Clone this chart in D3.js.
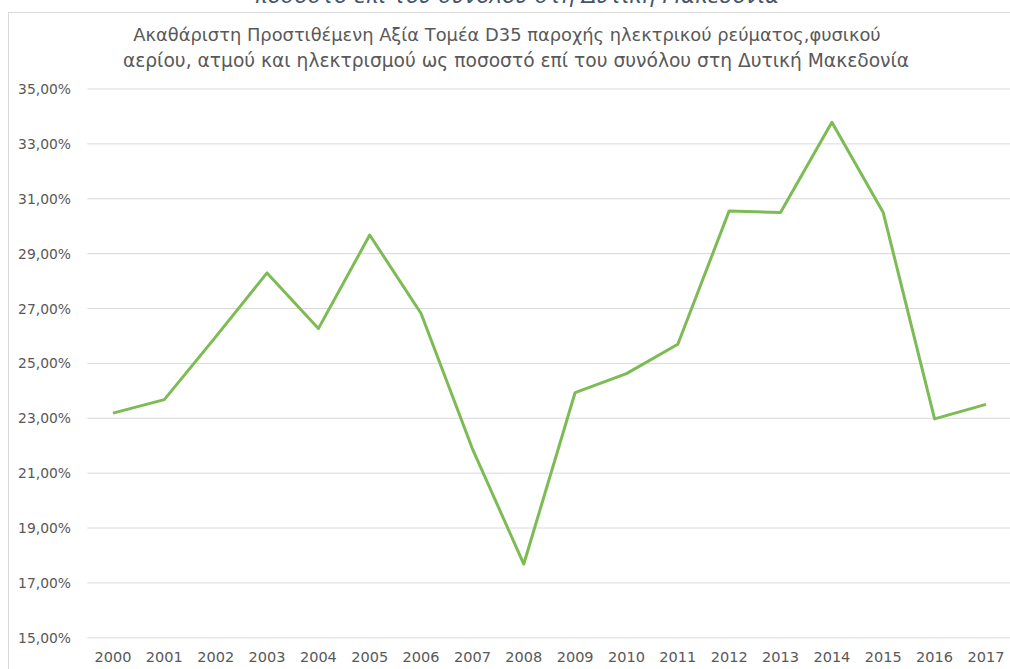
<!DOCTYPE html>
<html>
<head>
<meta charset="utf-8">
<script src="https://cdn.jsdelivr.net/npm/d3@7"></script>
<style>
	html, body { margin: 0; padding: 0; background: #fff; }
	svg { display: block; }
</style>
</head>
<body>
<div id="chart"></div>
<script>
const years = ["2000","2001","2002","2003","2004","2005","2006","2007","2008","2009","2010","2011","2012","2013","2014","2015","2016","2017"];
const shares = [23.17, 23.66, 25.95, 28.28, 26.25, 29.66, 26.80, 21.87, 17.67, 23.92, 24.61, 25.68, 30.54, 30.48, 33.77, 30.48, 22.96, 23.49];
const yTicks = [15, 17, 19, 21, 23, 25, 27, 29, 31, 33, 35];
const titleLines = [
	"Ακαθάριστη Προστιθέμενη Αξία Τομέα D35 παροχής ηλεκτρικού ρεύματος,φυσικού",
	"αερίου, ατμού και ηλεκτρισμού ως ποσοστό επί του συνόλου στη Δυτική Μακεδονία"
];
const captionTail = "ποσοστό επί του συνόλου στη Δυτική Μακεδονία";

(function() {
	const width = 1010, height = 669;
	const font = "'DejaVu Sans', sans-serif";
	const textColor = "#595959";

	const svg = d3.select("#chart").append("svg")
		.attr("width", width).attr("height", height);

	// shrink or grow a text node until it spans the wanted width
	function fitWidth(sel, target) {
		const node = sel.node();
		const fs = parseFloat(sel.attr("font-size"));
		const w = node.getComputedTextLength();
		sel.attr("font-size", fs * target / w);
	}

	// cut-off caption from the page above
	const cap = svg.append("text")
		.attr("x", 517).attr("y", 3)
		.attr("text-anchor", "middle")
		.attr("font-family", font).attr("font-style", "italic")
		.attr("font-size", 20).attr("fill", "#44546a")
		.text(captionTail);
	fitWidth(cap, 525);

	// chart frame
	svg.append("rect")
		.attr("x", 8.5).attr("y", 12.5)
		.attr("width", width + 20).attr("height", height + 20)
		.attr("fill", "#fff").attr("stroke", "#d9d9d9").attr("stroke-width", 1);

	const title = svg.append("g");
	title.append("text").attr("x", 507).attr("y", 41)
		.attr("text-anchor", "middle").attr("font-family", font)
		.attr("font-size", 17).attr("fill", textColor)
		.text(titleLines[0])
		.call(s => fitWidth(s, 748));
	title.append("text").attr("x", 516).attr("y", 67)
		.attr("text-anchor", "middle").attr("font-family", font)
		.attr("font-size", 17).attr("fill", textColor)
		.text(titleLines[1])
		.call(s => fitWidth(s, 787));

	const x = d3.scaleBand().domain(years).range([87.3, 1011.6]).padding(0);
	const y = d3.scaleLinear().domain([15, 35]).range([637.3, 88.5]);

	// gridlines
	svg.append("g")
		.attr("transform", "translate(87.3,0)")
		.call(d3.axisLeft(y).tickValues(yTicks).tickSize(-(1011.6 - 87.3)).tickFormat(""))
		.call(g => g.select(".domain").remove())
		.call(g => g.selectAll(".tick line").attr("stroke", "#d9d9d9").attr("stroke-width", 1));

	// y labels
	const fmt = v => v.toFixed(2).replace(".", ",") + "%";
	const yAxis = svg.append("g")
		.attr("transform", "translate(71,0)")
		.call(d3.axisLeft(y).tickValues(yTicks).tickSize(0).tickPadding(0).tickFormat(fmt));
	yAxis.select(".domain").remove();
	yAxis.selectAll("text")
		.attr("font-family", font).attr("font-size", 14).attr("fill", textColor)
		.attr("dy", "0.36em");
	const yl = yAxis.select(".tick text");
	const yfs = 14 * 53 / yl.node().getComputedTextLength();
	yAxis.selectAll("text").attr("font-size", yfs);

	// x labels
	const xAxis = svg.append("g")
		.attr("transform", "translate(0,637.3)")
		.call(d3.axisBottom(x).tickSize(0).tickPadding(0));
	xAxis.select(".domain").remove();
	xAxis.selectAll("text")
		.attr("font-family", font).attr("font-size", 14).attr("fill", textColor)
		.attr("y", 25).attr("dy", 0);
	const xl = xAxis.select(".tick text");
	const xfs = 14 * 37 / xl.node().getComputedTextLength();
	xAxis.selectAll("text").attr("font-size", xfs);

	// data line
	const line = d3.line()
		.x((d, i) => x(years[i]) + x.bandwidth() / 2)
		.y(d => y(d));

	svg.append("path")
		.datum(shares)
		.attr("d", line)
		.attr("fill", "none")
		.attr("stroke", "#7dbb55")
		.attr("stroke-width", 3)
		.attr("stroke-linejoin", "round");
})();
</script>
</body>
</html>
